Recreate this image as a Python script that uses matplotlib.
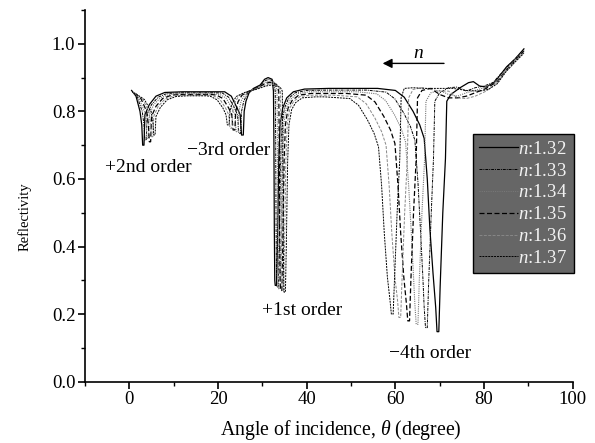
import matplotlib
matplotlib.use('Agg')
import matplotlib.pyplot as plt
from matplotlib.ticker import MultipleLocator

plt.rcParams['font.family'] = ['Liberation Serif', 'DejaVu Serif']
plt.rcParams['mathtext.fontset'] = 'custom'
plt.rcParams['mathtext.it'] = 'Liberation Serif:italic'
plt.rcParams['mathtext.rm'] = 'Liberation Serif'

# reflectivity curves, (angle, R) pairs
n132 = [(0.5, 0.862), (1.5, 0.845), (2.4, 0.80), (2.8, 0.76), (3.0, 0.70), (3.3, 0.70), (3.5, 0.79), (4.5, 0.82),
        (6.0, 0.845), (8.0, 0.856), (12, 0.858), (16, 0.858), (20, 0.858), (21.5, 0.858), (23.0, 0.845), (24.3, 0.81),
        (25.0, 0.79), (25.3, 0.73), (25.7, 0.73), (25.9, 0.80), (26.3, 0.83), (27.0, 0.855), (28.0, 0.868), (29.5, 0.878),
        (30.5, 0.895), (31.3, 0.90), (32.2, 0.895), (32.5, 0.86), (32.6, 0.72), (32.7, 0.45), (32.8, 0.30), (32.9, 0.285),
        (33.2, 0.285), (33.4, 0.40), (33.7, 0.65), (34.0, 0.76), (34.6, 0.81), (35.5, 0.84), (37.0, 0.858), (39.5, 0.866),
        (45, 0.868), (52, 0.868), (56, 0.868), (60, 0.862), (62, 0.842), (64, 0.80), (65.5, 0.76), (66.5, 0.72),
        (67.2, 0.60), (67.8, 0.45), (68.5, 0.32), (69.1, 0.22), (69.4, 0.148), (69.8, 0.148), (70.1, 0.28), (70.7, 0.50),
        (71.3, 0.66), (71.6, 0.83), (72.5, 0.85), (74.6, 0.87), (76.5, 0.885), (77.6, 0.888), (79, 0.875), (80.5, 0.872),
        (82.5, 0.888), (85.1, 0.932), (87, 0.955), (89, 0.985)]
n133 = [(0.7, 0.858), (1.8, 0.842), (2.9, 0.80), (3.3, 0.76), (3.5, 0.715), (3.8, 0.715), (4.0, 0.79), (5.0, 0.82),
        (6.5, 0.842), (8.5, 0.853), (12, 0.855), (16, 0.855), (19.5, 0.855), (21.0, 0.854), (22.4, 0.842), (23.7, 0.81),
        (24.4, 0.79), (24.7, 0.735), (25.1, 0.735), (25.3, 0.80), (25.8, 0.83), (26.6, 0.852), (27.8, 0.865), (29.4, 0.875),
        (30.5, 0.89), (31.4, 0.895), (32.5, 0.89), (32.9, 0.86), (33.0, 0.72), (33.1, 0.45), (33.2, 0.30), (33.3, 0.28),
        (33.6, 0.28), (33.8, 0.40), (34.1, 0.65), (34.4, 0.76), (35.0, 0.81), (35.9, 0.838), (37.4, 0.855), (40, 0.862),
        (45, 0.863), (50, 0.863), (53.5, 0.863), (57.9, 0.857), (59.9, 0.837), (61.9, 0.795), (63.4, 0.755), (64.4, 0.715),
        (65.1, 0.59), (65.7, 0.44), (66.2, 0.31), (66.5, 0.22), (66.8, 0.16), (67.2, 0.16), (67.5, 0.29), (68.1, 0.50),
        (68.6, 0.66), (68.9, 0.83), (70, 0.855), (72, 0.87), (74, 0.872), (76, 0.86), (78, 0.87), (80, 0.875),
        (82, 0.885), (85.1, 0.93), (87, 0.955), (89, 0.982)]
n134 = [(0.9, 0.856), (2.1, 0.84), (3.4, 0.80), (3.8, 0.765), (4.0, 0.72), (4.3, 0.72), (4.5, 0.79), (5.5, 0.82),
        (7.0, 0.84), (9.0, 0.85), (12, 0.852), (16, 0.852), (19, 0.852), (20.4, 0.85), (21.8, 0.84), (23.1, 0.81),
        (23.8, 0.79), (24.1, 0.74), (24.5, 0.74), (24.7, 0.80), (25.2, 0.83), (26.1, 0.85), (27.5, 0.862), (29.2, 0.872),
        (30.6, 0.885), (31.5, 0.89), (32.8, 0.885), (33.3, 0.86), (33.4, 0.72), (33.5, 0.45), (33.6, 0.30), (33.7, 0.275),
        (34.0, 0.275), (34.2, 0.40), (34.5, 0.65), (34.8, 0.76), (35.4, 0.81), (36.3, 0.835), (37.8, 0.852), (40.5, 0.858),
        (45, 0.858), (51.4, 0.858), (55.8, 0.852), (57.8, 0.832), (59.8, 0.79), (61.3, 0.75), (62.3, 0.71), (63.0, 0.58),
        (63.6, 0.44), (64.1, 0.31), (64.4, 0.23), (64.7, 0.17), (65.1, 0.17), (65.4, 0.30), (66.0, 0.50), (66.6, 0.66),
        (66.9, 0.83), (68, 0.855), (70, 0.862), (72, 0.85), (74, 0.845), (76, 0.855), (78, 0.862), (80, 0.87),
        (82.5, 0.885), (85, 0.925), (87, 0.953), (89, 0.98)]
n135 = [(1.1, 0.855), (2.6, 0.838), (3.9, 0.80), (4.3, 0.76), (4.5, 0.71), (4.8, 0.71), (5.0, 0.785), (6.0, 0.815),
        (7.5, 0.838), (9.5, 0.848), (12, 0.85), (16, 0.85), (18.5, 0.85), (19.7, 0.848), (21.1, 0.838), (22.4, 0.81),
        (23.1, 0.79), (23.4, 0.745), (23.8, 0.745), (24.0, 0.80), (24.5, 0.828), (25.4, 0.848), (27.0, 0.86), (29.0, 0.87),
        (30.6, 0.882), (31.6, 0.886), (33.2, 0.88), (33.7, 0.86), (33.8, 0.72), (33.9, 0.45), (34.0, 0.30), (34.1, 0.27),
        (34.4, 0.27), (34.6, 0.40), (34.9, 0.65), (35.2, 0.76), (35.8, 0.81), (36.7, 0.832), (38.2, 0.848), (41, 0.853),
        (45, 0.853), (49, 0.853), (53.4, 0.848), (55.4, 0.828), (57.4, 0.785), (58.9, 0.745), (59.9, 0.705), (60.6, 0.58),
        (61.2, 0.44), (61.9, 0.31), (62.5, 0.23), (62.8, 0.18), (63.2, 0.18), (63.5, 0.30), (64.1, 0.50), (64.7, 0.66),
        (65.0, 0.84), (66, 0.862), (68, 0.868), (70, 0.85), (72, 0.84), (74, 0.84), (76, 0.845), (78, 0.855),
        (80.5, 0.868), (83, 0.888), (85, 0.922), (87, 0.95), (89, 0.978)]
n136 = [(1.3, 0.853), (3.0, 0.836), (4.4, 0.80), (4.8, 0.765), (5.0, 0.725), (5.3, 0.725), (5.5, 0.785), (6.5, 0.815),
        (8.0, 0.836), (10, 0.846), (13, 0.848), (16, 0.848), (18, 0.848), (19.0, 0.846), (20.4, 0.836), (21.7, 0.81),
        (22.4, 0.79), (22.7, 0.75), (23.1, 0.75), (23.3, 0.80), (23.8, 0.826), (24.7, 0.846), (26.5, 0.858), (28.8, 0.868),
        (30.7, 0.878), (31.8, 0.882), (33.6, 0.876), (34.1, 0.86), (34.2, 0.72), (34.3, 0.45), (34.4, 0.30), (34.5, 0.268),
        (34.8, 0.268), (35.0, 0.40), (35.3, 0.65), (35.6, 0.76), (36.2, 0.81), (37.1, 0.83), (38.6, 0.845), (41.5, 0.848),
        (46, 0.848), (51.4, 0.843), (53.4, 0.823), (55.4, 0.78), (56.9, 0.74), (57.9, 0.70), (58.6, 0.58), (59.2, 0.44),
        (59.9, 0.31), (60.5, 0.24), (60.8, 0.19), (61.2, 0.19), (61.5, 0.30), (62.1, 0.50), (62.7, 0.66), (63.0, 0.84),
        (64, 0.865), (66, 0.87), (68, 0.865), (70, 0.86), (72, 0.86), (74, 0.84), (76, 0.838), (78, 0.845),
        (80.5, 0.86), (83, 0.885), (85, 0.92), (87, 0.948), (89, 0.975)]
n137 = [(1.5, 0.852), (3.4, 0.835), (4.9, 0.80), (5.3, 0.77), (5.5, 0.73), (5.8, 0.73), (6.0, 0.785), (7.0, 0.812),
        (8.5, 0.834), (10.5, 0.844), (13, 0.846), (16, 0.846), (17.5, 0.846), (18.4, 0.844), (19.8, 0.834), (21.1, 0.81),
        (21.8, 0.79), (22.1, 0.76), (22.5, 0.76), (22.7, 0.80), (23.2, 0.824), (24.1, 0.844), (26.0, 0.856), (28.6, 0.865),
        (30.8, 0.875), (32.0, 0.878), (34.0, 0.872), (34.5, 0.86), (34.6, 0.72), (34.7, 0.45), (34.8, 0.30), (34.9, 0.265),
        (35.2, 0.265), (35.4, 0.40), (35.7, 0.65), (36.0, 0.76), (36.6, 0.805), (37.5, 0.826), (39.0, 0.84), (42, 0.843),
        (44, 0.843), (49.7, 0.838), (51.7, 0.818), (53.7, 0.775), (55.2, 0.735), (56.2, 0.695), (56.9, 0.58), (57.5, 0.44),
        (58.2, 0.31), (58.8, 0.24), (59.1, 0.20), (59.5, 0.20), (59.8, 0.30), (60.4, 0.50), (61.0, 0.66), (61.3, 0.84),
        (62, 0.868), (64, 0.87), (67, 0.868), (70, 0.868), (73, 0.868), (76, 0.862), (79, 0.86), (81, 0.865),
        (83, 0.882), (85, 0.918), (87, 0.946), (89, 0.972)]

curves = [n132, n133, n134, n135, n136, n137]
labels = ['$n$:1.32', '$n$:1.33', '$n$:1.34', '$n$:1.35', '$n$:1.36', '$n$:1.37']
styles = [
    dict(color='black', ls='-', lw=0.9),
    dict(color='black', ls=(0, (3, 1, 1, 1)), lw=0.7),
    dict(color='#777777', ls=(0, (1, 1)), lw=0.8),
    dict(color='black', ls=(0, (4, 2)), lw=0.9),
    dict(color='#888888', ls=(0, (3, 1.5)), lw=0.7),
    dict(color='black', ls=(0, (2, 1)), lw=0.7),
]

fig = plt.figure(figsize=(5.95, 4.43), dpi=100)
ax = fig.add_axes([0.1429, 0.1384, 0.8196, 0.839])

for pts, lab, st in zip(curves, labels, styles):
    x = [p[0] for p in pts]
    y = [p[1] for p in pts]
    ax.plot(x, y, label=lab, **st)

ax.set_xlim(-10, 100)
ax.set_ylim(0, 1.1)
ax.xaxis.set_major_locator(MultipleLocator(20))
ax.xaxis.set_minor_locator(MultipleLocator(10))
ax.yaxis.set_major_locator(MultipleLocator(0.2))
ax.yaxis.set_minor_locator(MultipleLocator(0.1))
ax.yaxis.set_major_formatter(matplotlib.ticker.FormatStrFormatter('%.1f'))
ax.spines['top'].set_visible(False)
ax.spines['right'].set_visible(False)
ax.spines['left'].set_linewidth(1.2)
ax.spines['bottom'].set_linewidth(1.2)
ax.tick_params(which='major', direction='out', length=5, width=1.2, labelsize=13.5, pad=2)
ax.tick_params(which='minor', direction='out', length=3, width=1.0)

ax.set_xlabel('Angle of incidence, $\\theta$ (degree)', fontsize=14.2)
ax.set_ylabel('Reflectivity', fontsize=10.5)
ax.xaxis.set_label_coords(0.525, -0.097)
ax.yaxis.set_label_coords(-0.109, 0.443)

ax.text(-5.6, 0.635, '+2nd order', fontsize=14, ha='left', va='center')
ax.text(13.1, 0.685, '\u22123rd order', fontsize=14, ha='left', va='center')
ax.text(30.0, 0.212, '+1st order', fontsize=14, ha='left', va='center')
ax.text(58.5, 0.084, '\u22124th order', fontsize=14, ha='left', va='center')

ax.annotate('', xy=(56.5, 0.942), xytext=(71.6, 0.942),
            arrowprops=dict(arrowstyle='-|>', color='black', lw=1.0, mutation_scale=14))
ax.text(65.3, 0.97, '$n$', fontsize=14, ha='center', va='center')

leg = ax.legend(loc='upper right', bbox_to_anchor=(1.003, 0.666), borderaxespad=0,
                fontsize=13.5, frameon=True, fancybox=False, framealpha=1,
                facecolor='#666666', edgecolor='black', handlelength=2.1,
                handletextpad=0.0, labelspacing=0.25, borderpad=0.35)
for t in leg.get_texts():
    t.set_color('#f2f2f2')

fig.savefig('out.png', dpi=100)
